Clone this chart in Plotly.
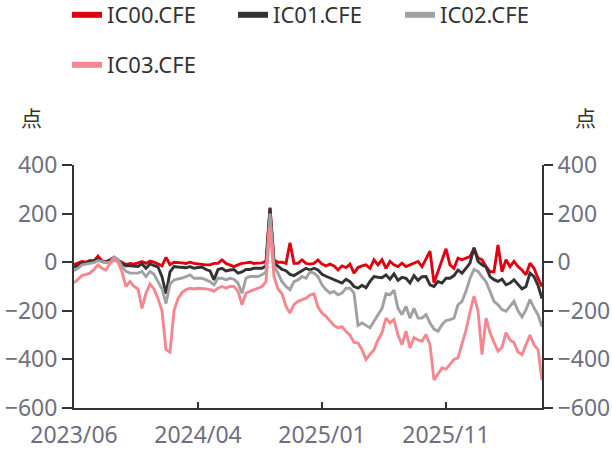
import plotly.graph_objects as go

# ---- data (~4 px sampling of a trading-day axis) ----
ic00 = [-10, -5, 3, 0, 7, 5, 25, 5, 3, 10, 20, 8, 0, -10, -5, -8, -3, 3, -5, 5,
        0, -8, -15, 20, -10, 0, 0, -3, -5, 0, -5, -8, -11, -11, -11, -5, -5, 9, -5, -10,
        -18, -11, -5, -3, 0, -5, -5, -3, 5, 225, 9, 0, 0, -5, 80, -5, -5, 9, -5, -8,
        -5, 9, -8, -15, -8, -15, -32, -15, -22, -8, -45, -22, -15, -11, -25, 10, -11, 10, -25, 3,
        -11, -18, -4, -18, -11, -4, 3, -18, 17, 45, -85, -39, 10, 55, -11, -25, 17, 10, 17, 23,
        57, 17, 10, -18, -39, -39, 71, -39, 10, -18, 3, -18, -32, -52, -4, -25, -66, -100]

ic01 = [-20, -15, -3, -5, 2, 5, 12, 2, 0, 5, 18, 10, -7, -15, -15, -18, -18, -7, -25, -7,
        -15, -20, -60, -130, -40, -18, -20, -20, -23, -18, -25, -22, -20, -30, -36, -73, -30, -25, -36, -32,
        -30, -45, -40, -30, -30, -25, -25, -25, -15, 222, -3, -18, -30, -35, -50, -55, -45, -32, -25, -32,
        -25, -32, -50, -58, -65, -70, -80, -86, -70, -80, -100, -107, -95, -105, -79, -59, -62, -64, -52, -70,
        -48, -75, -62, -66, -85, -55, -75, -60, -59, -93, -100, -79, -86, -66, -66, -55, -32, -45, -25, -4,
        60, 3, -11, -20, -59, -72, -79, -70, -93, -86, -72, -93, -110, -100, -45, -59, -95, -150]

ic02 = [-35, -25, -11, -8, -4, -2, 7, 3, -2, 0, 20, 12, -18, -38, -45, -45, -45, -38, -59, -38,
        -50, -80, -110, -170, -90, -73, -70, -65, -59, -52, -66, -66, -66, -73, -80, -93, -66, -66, -73, -66,
        -70, -86, -128, -66, -59, -59, -59, -52, -40, 200, -15, -45, -80, -100, -113, -80, -73, -59, -66, -40,
        -45, -59, -93, -113, -127, -120, -134, -127, -107, -107, -127, -260, -250, -260, -270, -243, -215, -190, -130, -134,
        -115, -190, -216, -182, -230, -190, -230, -230, -216, -250, -275, -284, -257, -240, -236, -230, -175, -161, -120, -66,
        -30, -38, -60, -80, -120, -161, -175, -195, -202, -182, -161, -200, -225, -195, -154, -188, -216, -265]

ic03 = [-85, -70, -55, -50, -45, -30, -11, -25, -32, -5, 10, 0, -40, -100, -80, -100, -110, -190, -127, -90,
        -110, -150, -200, -360, -370, -200, -150, -125, -113, -107, -110, -107, -107, -110, -113, -120, -107, -100, -107, -100,
        -100, -120, -175, -127, -120, -113, -107, -100, -80, 145, -60, -110, -130, -182, -209, -175, -161, -155, -148, -135,
        -130, -185, -209, -223, -240, -260, -270, -265, -285, -300, -330, -332, -360, -400, -380, -360, -320, -290, -230, -250,
        -236, -300, -339, -284, -353, -310, -320, -325, -298, -340, -485, -462, -435, -440, -420, -400, -394, -339, -280, -205,
        -140, -200, -380, -230, -290, -330, -366, -350, -290, -320, -330, -370, -380, -340, -300, -340, -360, -485]

series_names = ["IC00.CFE", "IC01.CFE", "IC02.CFE", "IC03.CFE"]
series_values = [ic00, ic01, ic02, ic03]
series_colors = ["#E0000F", "#333333", "#A0A1A4", "#F4878F"]

tick_labels = ["2023/06", "2024/04", "2025/01", "2025/11"]
tick_index = [0, 31, 62, 93]

y_ticks = [-600, -400, -200, 0, 200, 400]
unit = "点"

x_idx = list(range(len(ic00)))

FONT = "Noto Sans, Noto Sans CJK SC, sans-serif"
TICK_COLOR = "#6F6F7F"
AXIS_COLOR = "#333333"

W, H = 612, 452
L, R, T, B = 74, 70, 165, 44
PW, PH = W - L - R, H - T - B

# legend slot placement (left edge px, row centre px)
legend_slots = [(67, 15), (233, 15), (400, 15), (67, 65)]
legend_ids = ["legend", "legend2", "legend3", "legend4"]

fig = go.Figure()

for k, (name, vals, col) in enumerate(zip(series_names, series_values, series_colors)):
    fig.add_trace(go.Scatter(
        x=x_idx, y=vals, mode="lines", name=name,
        line=dict(color=col, width=2.9),
        showlegend=False,
        yaxis="y2" if k == 3 else "y",
    ))

# legend entries (thicker swatches like the reference)
for k, (name, col) in enumerate(zip(series_names, series_colors)):
    fig.add_trace(go.Scatter(
        x=[None], y=[None], mode="lines", name=name,
        line=dict(color=col, width=6),
        showlegend=True,
        legend=legend_ids[k],
    ))

legend_layouts = {}
for lid, (lx, ly) in zip(legend_ids, legend_slots):
    legend_layouts[lid] = dict(orientation="h", xref="container", yref="container",
                               x=lx / W, xanchor="left", y=1 - ly / H, yanchor="middle",
                               font=dict(size=22, color="#333333", family=FONT),
                               bgcolor="rgba(0,0,0,0)")

axis_common = dict(showline=True, linecolor=AXIS_COLOR, linewidth=2, tickwidth=2, tickcolor=AXIS_COLOR,
                   showgrid=False, zeroline=False, automargin=False,
                   tickfont=dict(size=23, color=TICK_COLOR, family=FONT))

fig.update_layout(
    width=W, height=H,
    margin=dict(l=L, r=R, t=T, b=B, autoexpand=False),
    paper_bgcolor="white", plot_bgcolor="white",
    font=dict(family=FONT, size=22, color=TICK_COLOR),
    **legend_layouts,
    xaxis=dict(range=[0, len(ic00) - 1], tickmode="array", tickvals=tick_index, ticktext=tick_labels,
               ticks="inside", ticklen=6, ticklabelstandoff=5, **axis_common),
    yaxis=dict(range=[-600, 400], tickmode="array", tickvals=y_ticks,
               ticks="outside", ticklen=10, **axis_common),
    yaxis2=dict(range=[-600, 400], tickmode="array", tickvals=y_ticks, overlaying="y", side="right",
                ticks="outside", ticklen=9, **axis_common),
    annotations=[
        dict(text=unit, xref="paper", yref="paper", x=(31 - L) / PW, y=(H - B - 118) / PH,
             xanchor="center", yanchor="middle", showarrow=False,
             font=dict(size=21, color="#333333", family=FONT)),
        dict(text=unit, xref="paper", yref="paper", x=(585 - L) / PW, y=(H - B - 118) / PH,
             xanchor="center", yanchor="middle", showarrow=False,
             font=dict(size=21, color="#333333", family=FONT)),
    ],
)

fig.write_html("out.html", config={"displayModeBar": False},
               post_script="document.body.style.margin='0';")
